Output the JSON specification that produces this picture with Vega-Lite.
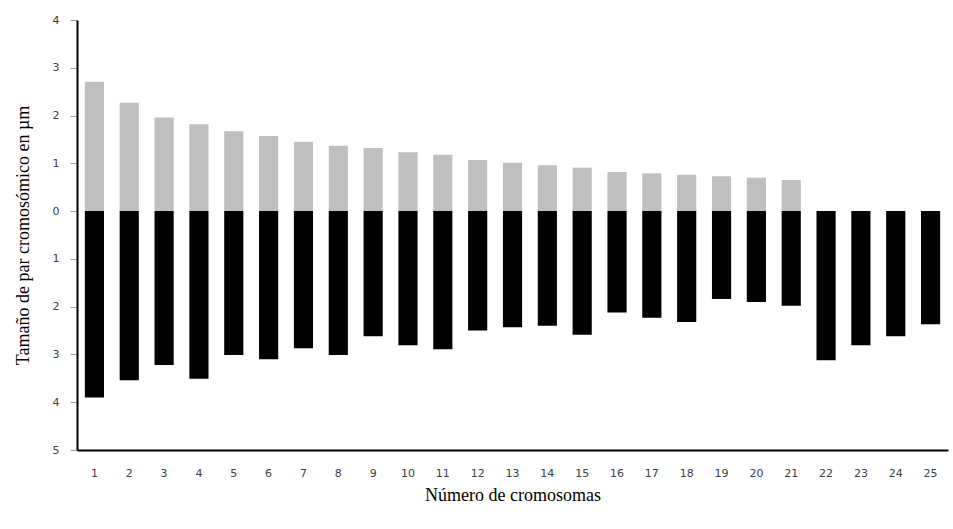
{
  "$schema": "https://vega.github.io/schema/vega-lite/v6.json",
  "autosize": {"type": "none"},
  "width": 871,
  "height": 430,
  "padding": {"left": 77, "top": 20, "right": 5, "bottom": 79},
  "background": "white",
  "config": {"view": {"stroke": null}},
  "data": {
    "values": [
      {"cromosoma": 1, "corto": 2.71, "largo": -3.90},
      {"cromosoma": 2, "corto": 2.27, "largo": -3.54},
      {"cromosoma": 3, "corto": 1.96, "largo": -3.22},
      {"cromosoma": 4, "corto": 1.82, "largo": -3.51},
      {"cromosoma": 5, "corto": 1.67, "largo": -3.01},
      {"cromosoma": 6, "corto": 1.57, "largo": -3.10},
      {"cromosoma": 7, "corto": 1.45, "largo": -2.87},
      {"cromosoma": 8, "corto": 1.37, "largo": -3.01},
      {"cromosoma": 9, "corto": 1.32, "largo": -2.62},
      {"cromosoma": 10, "corto": 1.23, "largo": -2.81},
      {"cromosoma": 11, "corto": 1.18, "largo": -2.89},
      {"cromosoma": 12, "corto": 1.07, "largo": -2.50},
      {"cromosoma": 13, "corto": 1.01, "largo": -2.43},
      {"cromosoma": 14, "corto": 0.96, "largo": -2.40},
      {"cromosoma": 15, "corto": 0.91, "largo": -2.59},
      {"cromosoma": 16, "corto": 0.82, "largo": -2.12},
      {"cromosoma": 17, "corto": 0.79, "largo": -2.23},
      {"cromosoma": 18, "corto": 0.76, "largo": -2.32},
      {"cromosoma": 19, "corto": 0.73, "largo": -1.84},
      {"cromosoma": 20, "corto": 0.70, "largo": -1.90},
      {"cromosoma": 21, "corto": 0.65, "largo": -1.98},
      {"cromosoma": 22, "corto": 0, "largo": -3.12},
      {"cromosoma": 23, "corto": 0, "largo": -2.81},
      {"cromosoma": 24, "corto": 0, "largo": -2.62},
      {"cromosoma": 25, "corto": 0, "largo": -2.37}
    ]
  },
  "encoding": {
    "x": {
      "field": "cromosoma",
      "type": "ordinal",
      "scale": {"paddingInner": 0.45, "paddingOuter": 0.225},
      "axis": {
        "title": "Número de cromosomas",
        "titleFont": "Liberation Serif",
        "titleFontSize": 18,
        "titleFontWeight": "normal",
        "titleColor": "#000000",
        "titlePadding": 8,
        "labelAngle": 0,
        "labelFont": "DejaVu Sans",
        "labelFontSize": 11,
        "labelColor": "#404040",
        "labelPadding": 17,
        "ticks": false,
        "domainColor": "#000000",
        "domainWidth": 2
      }
    }
  },
  "layer": [
    {
      "mark": {"type": "bar", "color": "#BFBFBF"},
      "encoding": {
        "y": {
          "field": "corto",
          "type": "quantitative",
          "scale": {"domain": [-5, 4], "nice": false, "zero": false},
          "axis": {
            "title": "Tamaño de par cromosómico en µm",
            "titleFont": "Liberation Serif",
            "titleFontSize": 18,
            "titleFontWeight": "normal",
            "titleColor": "#000000",
            "titlePadding": 20,
            "values": [-5, -4, -3, -2, -1, 0, 1, 2, 3, 4],
            "labelExpr": "abs(datum.value)",
            "labelFont": "DejaVu Sans",
            "labelFontSize": 11,
            "labelColor": "#404040",
            "labelPadding": 11,
            "tickSize": 7,
            "tickColor": "#A0A0A0",
            "grid": false,
            "domainColor": "#000000",
            "domainWidth": 2
          }
        }
      }
    },
    {
      "mark": {"type": "bar", "color": "#000000"},
      "encoding": {
        "y": {"field": "largo", "type": "quantitative"}
      }
    },
    {
      "mark": {"type": "rule", "color": "#8C8C8C", "strokeWidth": 1.5},
      "encoding": {"y": {"datum": 0}}
    }
  ]
}
